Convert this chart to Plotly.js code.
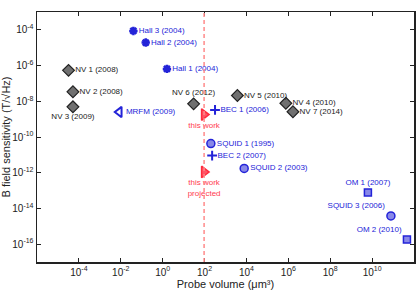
<!DOCTYPE html>
<html><head><meta charset="utf-8">
<script src="https://cdn.plot.ly/plotly-3.0.1.min.js"></script>
<style>body{margin:0;background:#fff}#c{width:417px;height:294px}</style>
</head><body><div id="c"></div>
<script>
// Data (probe volume in µm³, sensitivity in T/√Hz)
const nvNames = ["NV 1 (2008)","NV 2 (2008)","NV 3 (2009)","NV 6 (2012)","NV 5 (2010)","NV 4 (2010)","NV 7 (2014)"];
const nvVol   = [3.2e-5, 5.2e-5, 5.2e-5, 30, 3700, 7.6e5, 1.66e6];
const nvSens  = [5.4e-7, 3.4e-8, 4.9e-9, 7.2e-9, 2.1e-8, 7.8e-9, 2.6e-9];
const nvPos   = ["middle right","middle right","bottom center","top center","middle right","middle right","middle right"];

const hallNames = ["Hall 3 (2004)","Hall 2 (2004)","Hall 1 (2004)"];
const hallVol   = [0.04, 0.155, 1.6];
const hallSens  = [8.7e-5, 1.95e-5, 6.5e-7];

const mrfmNames = ["MRFM (2009)"];
const mrfmVol   = [8.5e-3];
const mrfmSens  = [2.5e-9];

const becNames = ["BEC 1 (2006)","BEC 2 (2007)"];
const becVol   = [316, 230];
const becSens  = [3.3e-9, 9.1e-12];

const squidNames = ["SQUID 1 (1995)","SQUID 2 (2003)","SQUID 3 (2006)"];
const squidVol   = [200, 7800, 7.9e10];
const squidSens  = [4.3e-11, 1.74e-12, 3.8e-15];
const squidPos   = ["middle right","middle right","top left"];

const omNames = ["OM 1 (2007)","OM 2 (2010)"];
const omVol   = [6.3e9, 4.6e11];
const omSens  = [7.9e-14, 1.8e-16];
const omPos   = ["top center","top left"];

const workNames = ["this work","this work<br>projected"];
const workVol   = [95, 95];
const workSens  = [1.8e-9, 1.1e-12];
const workLine  = 95;

const xTickVals = [-4,-2,0,2,4,6,8,10];
const yTickVals = [-16,-14,-12,-10,-8,-6,-4];
const sup = v => "10<sup>" + (v<0?"-"+(-v):v) + "</sup>";

const blue = "#2323d8";
const blueFill = "#8888e8";
const labFont = {family:"Liberation Sans, Arial, sans-serif", size:8};

const traces = [
  {x:nvVol, y:nvSens, text:nvNames, mode:"markers+text", textposition:nvPos, type:"scatter",
   marker:{symbol:"diamond", size:9, color:"#707070", line:{color:"#222", width:1.2}},
   textfont:Object.assign({color:"#222"}, labFont)},
  {x:hallVol, y:hallSens, text:hallNames, mode:"markers+text", textposition:"middle right", type:"scatter",
   marker:{symbol:"asterisk-open", size:7, color:blue, line:{color:blue, width:2.5}},
   textfont:Object.assign({color:blue}, labFont)},
  {x:mrfmVol, y:mrfmSens, text:mrfmNames, mode:"markers+text", textposition:"middle right", type:"scatter",
   marker:{symbol:"triangle-left-open", size:9, color:blue, line:{color:blue, width:2}},
   textfont:Object.assign({color:blue}, labFont)},
  {x:becVol, y:becSens, text:becNames, mode:"markers+text", textposition:"middle right", type:"scatter",
   marker:{symbol:"cross-thin-open", size:7, color:blue, line:{color:blue, width:2}},
   textfont:Object.assign({color:blue}, labFont)},
  {x:squidVol, y:squidSens, text:squidNames, mode:"markers+text", textposition:squidPos, type:"scatter",
   marker:{symbol:"circle", size:8, color:blueFill, line:{color:blue, width:1.5}},
   textfont:Object.assign({color:blue}, labFont)},
  {x:omVol, y:omSens, text:omNames, mode:"markers+text", textposition:omPos, type:"scatter",
   marker:{symbol:"square", size:7, color:blueFill, line:{color:blue, width:1.5}},
   textfont:Object.assign({color:blue}, labFont)},
  {x:workVol, y:workSens, text:workNames, mode:"markers+text", textposition:"bottom center", type:"scatter",
   marker:{symbol:"triangle-right", size:10, color:"#ff5566", line:{color:"#ff2a3c", width:1.5}},
   textfont:Object.assign({color:"#ff3b4f"}, labFont)}
];

const axisCommon = {
  showline:true, linecolor:"#222", linewidth:1.5, mirror:"ticks",
  ticks:"inside", ticklen:4, tickwidth:1, tickcolor:"#222",
  showgrid:false, zeroline:false,
  tickfont:{family:"Liberation Sans, Arial, sans-serif", size:10, color:"#222"}
};

const layout = {
  width:417, height:294,
  margin:{l:37, r:3, t:12, b:32},
  paper_bgcolor:"#fff", plot_bgcolor:"#fff",
  showlegend:false,
  xaxis:Object.assign({}, axisCommon, {
    type:"log", range:[-6,12], tickvals:xTickVals.map(v=>Math.pow(10,v)), ticktext:xTickVals.map(sup),
    title:{text:"Probe volume (μm³)", font:{family:"Liberation Sans, Arial, sans-serif", size:11, color:"#222"}, standoff:4}
  }),
  yaxis:Object.assign({}, axisCommon, {
    type:"log", range:[-17,-3], tickvals:yTickVals.map(v=>Math.pow(10,v)), ticktext:yTickVals.map(sup),
    title:{text:"B field sensitivity (T/√Hz)", font:{family:"Liberation Sans, Arial, sans-serif", size:11, color:"#222"}, standoff:2}
  }),
  shapes:[{type:"line", xref:"x", yref:"paper", x0:workLine, x1:workLine, y0:0, y1:1,
           line:{color:"#ff8a8a", width:1.5, dash:"4px,3px"}}]
};

Plotly.newPlot("c", traces, layout, {displayModeBar:false, staticPlot:true});
</script>
</body></html>
